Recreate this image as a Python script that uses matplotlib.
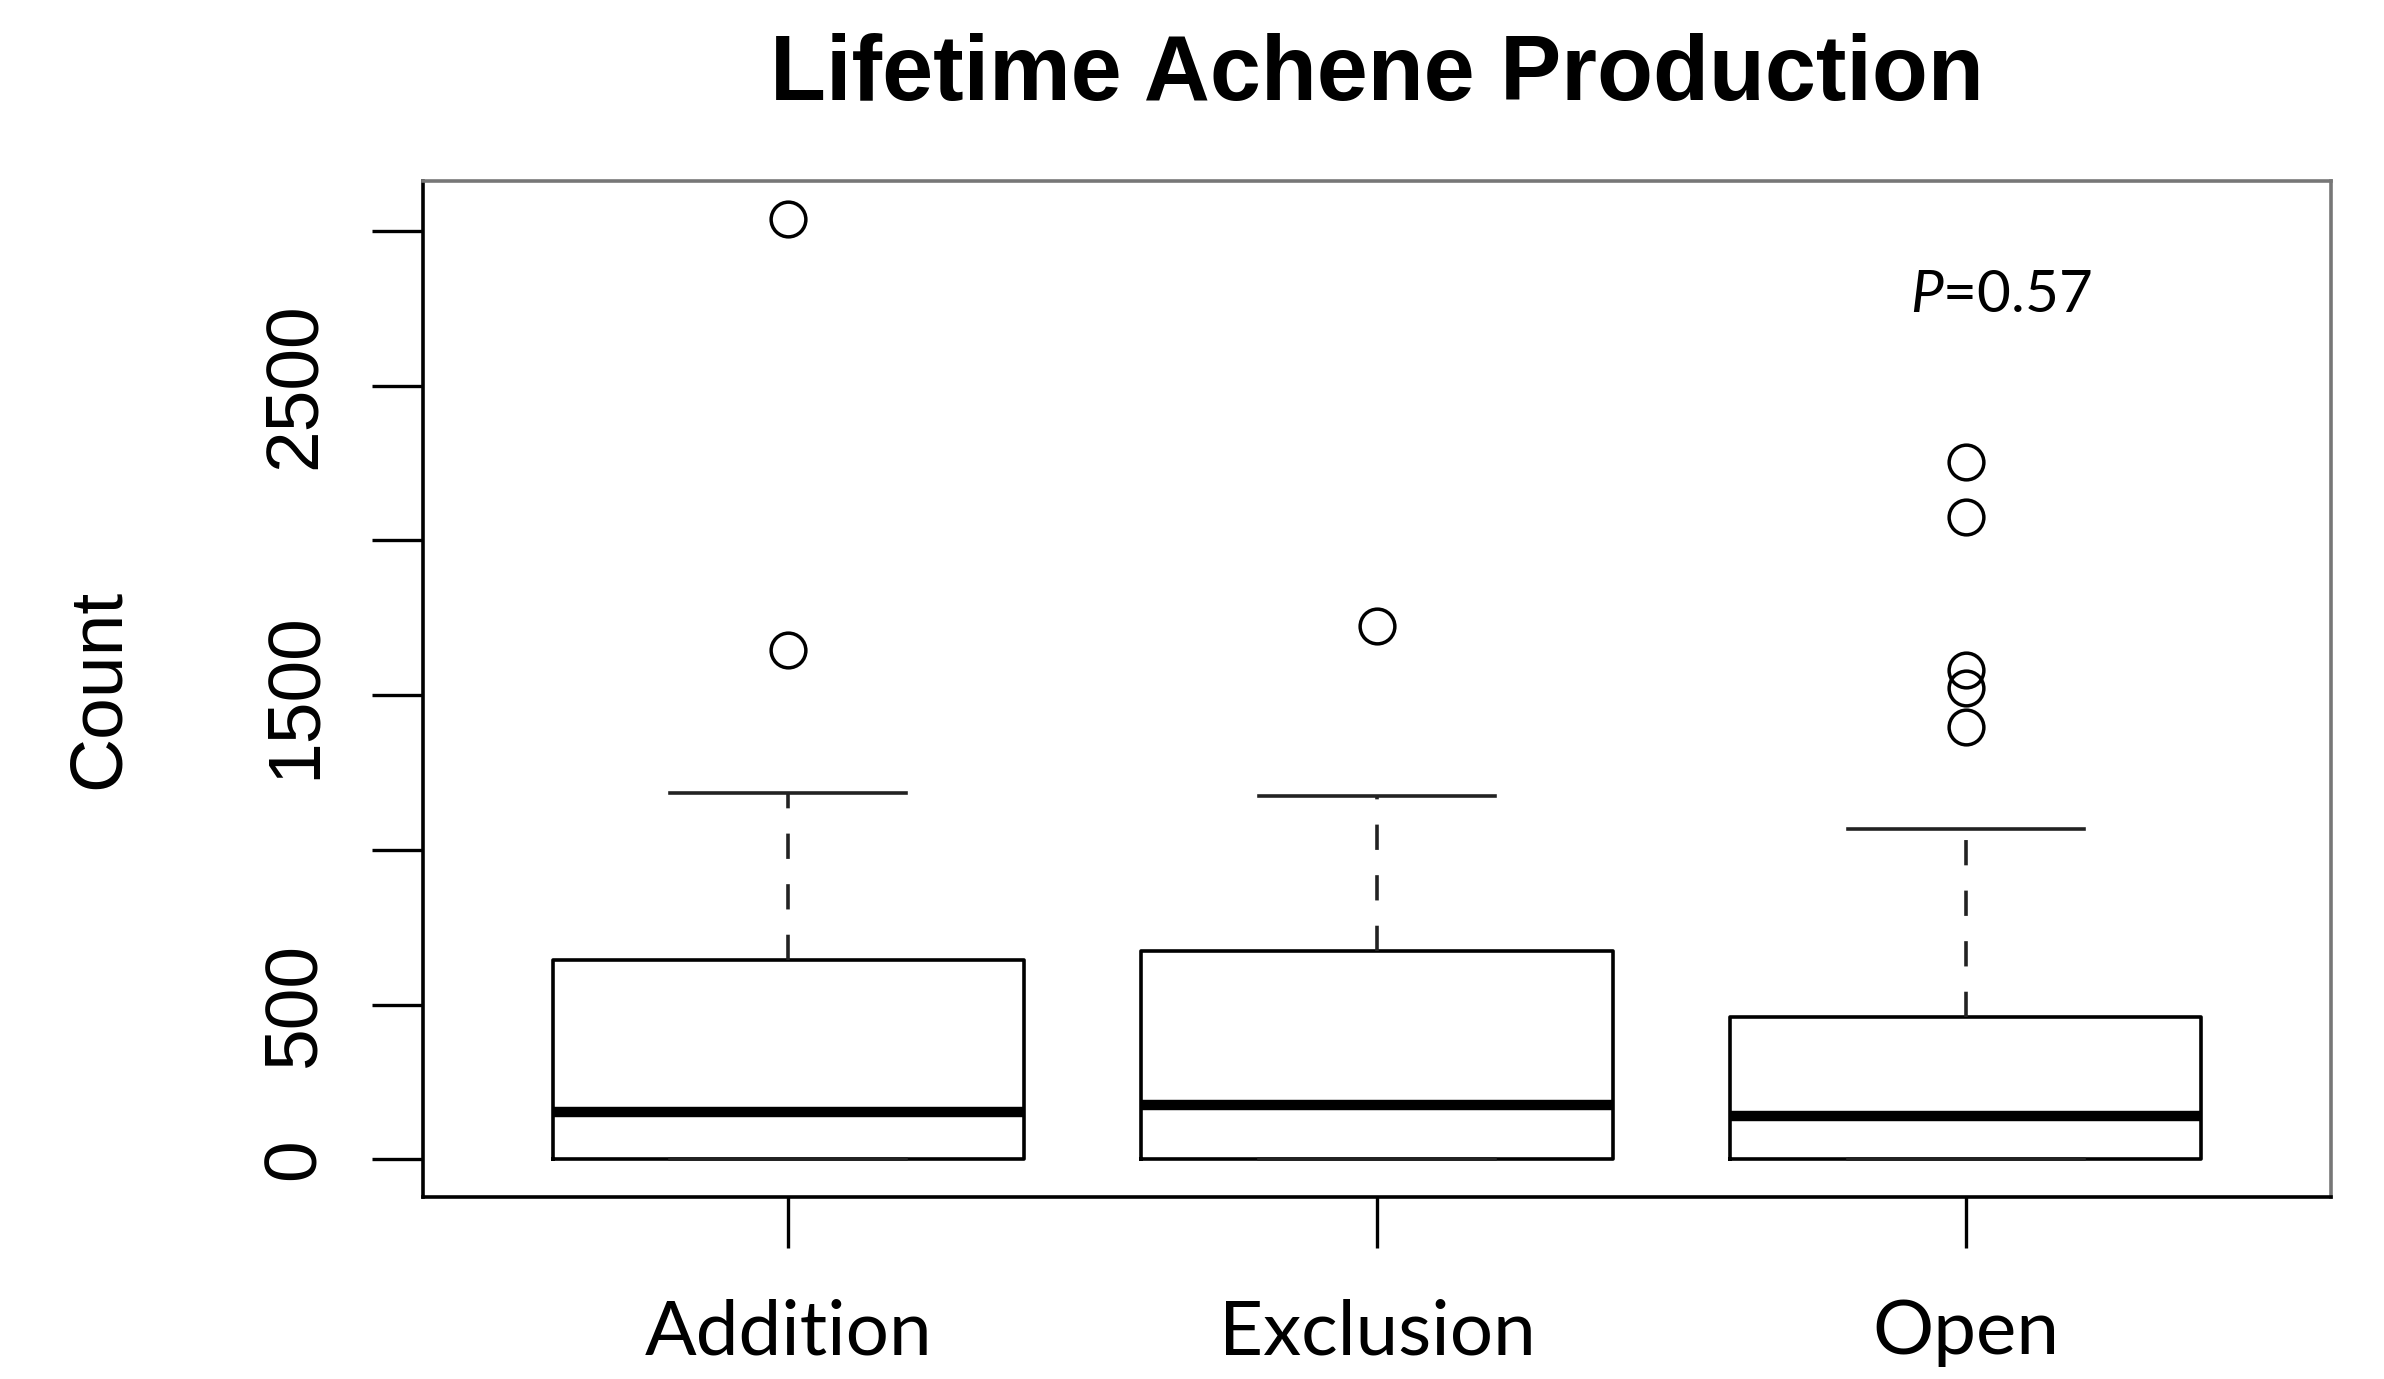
import matplotlib
matplotlib.use('Agg')
import matplotlib.pyplot as plt

# values
groups = ['Addition', 'Exclusion', 'Open']
q1 = [0, 0, 0]
medians = [152, 176, 140]
q3 = [645, 673, 459]
whislo = [0, 0, 0]
whishi = [1185, 1175, 1068]
outliers = [[1646, 3040], [1722], [1398, 1522, 1580, 2075, 2252]]

yticks = [0, 500, 1000, 1500, 2000, 2500, 3000]
ytick_labels = ['0', '500', '', '1500', '', '2500', '']
p_text = r'$\mathit{P}$=0.57'
p_pos = (3.06, 2790)

plt.rcParams['mathtext.fontset'] = 'custom'
plt.rcParams['mathtext.rm'] = 'Lato'
plt.rcParams['mathtext.it'] = 'Lato:italic'

W, H = 2384, 1379
fig = plt.figure(figsize=(W / 100, H / 100), dpi=100)
ax = fig.add_axes([423 / W, 1 - 1197 / H, (2331 - 423) / W, (1197 - 181) / H])

stats = []
for i, g in enumerate(groups):
    stats.append(dict(label=g, q1=q1[i], med=medians[i], q3=q3[i],
                      whislo=whislo[i], whishi=whishi[i], fliers=outliers[i]))

ax.bxp(stats, positions=[1, 2, 3], widths=0.8, capwidths=0.4,
       boxprops=dict(color='black', linewidth=2.6),
       medianprops=dict(color='black', linewidth=7.5, solid_capstyle='butt'),
       whiskerprops=dict(color='#222222', linewidth=2.6, linestyle=(0, (7, 7))),
       capprops=dict(color='#222222', linewidth=2.6),
       flierprops=dict(marker='o', markersize=25, markerfacecolor='none',
                       markeredgecolor='black', markeredgewidth=2.5))

ax.set_xlim(0.38, 3.62)
ax.set_ylim(-121.6, 3161.6)

ax.set_yticks(yticks)
ax.set_yticklabels(ytick_labels, rotation=90, va='center',
                   fontfamily='Liberation Sans', fontsize=54)
ax.set_xticks([1, 2, 3])
ax.set_xticklabels(groups, fontfamily='Lato', fontsize=55)
ax.tick_params(axis='y', length=37, width=2.4, pad=30)
ax.tick_params(axis='x', length=37, width=2.4, pad=36)

for side in ['left', 'bottom']:
    ax.spines[side].set_linewidth(2.6)
    ax.spines[side].set_color('black')
for side in ['top', 'right']:
    ax.spines[side].set_linewidth(2.6)
    ax.spines[side].set_color('#777777')

ax.text(p_pos[0], p_pos[1], p_text, ha='center', va='center',
        fontfamily='Lato', fontsize=42)

fig.text(1377 / W, 1 - 100 / H, 'Lifetime Achene Production', ha='center',
         va='baseline', fontfamily='Liberation Sans', fontweight='bold', fontsize=66)
fig.text(99 / W, 1 - 689 / H, 'Count', rotation=90, ha='center', va='center',
         fontfamily='Liberation Sans', fontsize=54)

fig.savefig('out.png', dpi=100, facecolor='white')
